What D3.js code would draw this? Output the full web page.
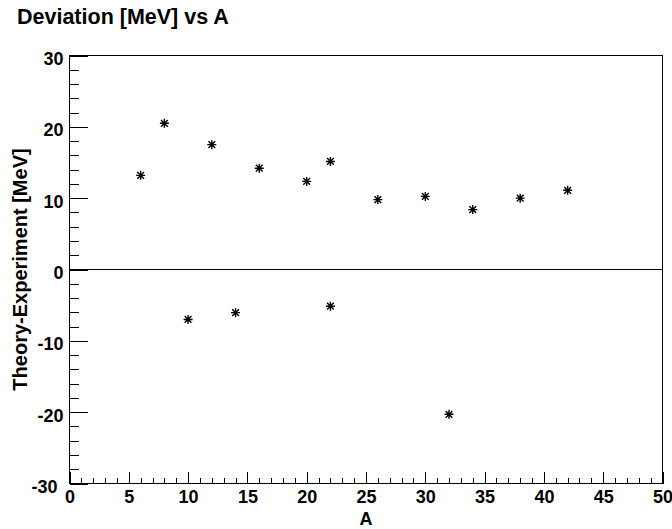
<!DOCTYPE html>
<html>
<head>
<meta charset="utf-8">
<script src="https://cdn.jsdelivr.net/npm/d3@7"></script>
<style>
  body { margin: 0; background: #fff; }
  svg { display: block; font-family: "Liberation Sans", Arial, sans-serif; font-weight: bold; }
</style>
</head>
<body>
<svg id="chart" width="672" height="529"></svg>
<script>
// mass number A and deviation theory - experiment [MeV]
const massNumbers = [6, 8, 10, 12, 14, 16, 20, 22, 22, 26, 30, 32, 34, 38, 42];
const deviations = [13.2, 20.5, -7.0, 17.5, -6.05, 14.2, 12.35, 15.15, -5.15, 9.8, 10.25, -20.3, 8.4, 10.0, 11.1];
const xTicks = [0, 5, 10, 15, 20, 25, 30, 35, 40, 45, 50];
const yTicks = [-30, -20, -10, 0, 10, 20, 30];

const width = 672, height = 529;
const margin = { left: 69.5, right: 9.5, top: 55.5, bottom: 45.5 };
const svg = d3.select('#chart');

const x = d3.scaleLinear().domain([0, 50]).range([margin.left, width - margin.right]);
const y = d3.scaleLinear().domain([-30, 30]).range([height - margin.bottom, margin.top]);

// minor ticks
const xMinor = d3.range(0, 51, 1).filter(v => v % 5 !== 0);
const yMinor = d3.range(-30, 31, 2).filter(v => v % 10 !== 0);

const fmt = d => String(d);

const xAxis = svg.append('g')
    .attr('transform', 'translate(0,' + y(-30) + ')')
    .call(d3.axisBottom(x).tickValues(xTicks).tickSize(-12).tickPadding(7).tickFormat(fmt));
svg.append('g')
    .attr('transform', 'translate(0,' + y(-30) + ')')
    .call(d3.axisBottom(x).tickValues(xMinor).tickSize(-6).tickFormat(''));

const yAxis = svg.append('g')
    .attr('transform', 'translate(' + x(0) + ',0)')
    .call(d3.axisLeft(y).tickValues(yTicks).tickSize(-18).tickPadding(6).tickFormat(fmt));
svg.append('g')
    .attr('transform', 'translate(' + x(0) + ',0)')
    .call(d3.axisLeft(y).tickValues(yMinor).tickSize(-9).tickFormat(''));

svg.selectAll('.domain').remove();
svg.selectAll('.tick line').attr('stroke', '#000').attr('shape-rendering', 'crispEdges');
svg.selectAll('.tick text')
    .attr('fill', '#000')
    .style('font-size', '18px')
    .style('font-family', '"Liberation Sans", Arial, sans-serif')
    .style('font-weight', 'bold');
yAxis.selectAll('.tick text').attr('dy', '0.5em');
// lowest y label sits left of the x-axis "0"
yAxis.selectAll('.tick text').filter(d => d === -30).attr('x', -12);

// frame
svg.append('rect')
    .attr('x', x(0)).attr('y', y(30))
    .attr('width', x(50) - x(0)).attr('height', y(-30) - y(30))
    .attr('fill', 'none').attr('stroke', '#000').attr('stroke-width', 1)
    .attr('shape-rendering', 'crispEdges');

// zero line
svg.append('line')
    .attr('x1', x(0)).attr('x2', x(50))
    .attr('y1', y(0)).attr('y2', y(0))
    .attr('stroke', '#000').attr('shape-rendering', 'crispEdges');

// star markers
const r = 4.5;
const star = 'M' + -r + ',0H' + r + 'M0,' + -r + 'V' + r +
    'M' + -r * 0.75 + ',' + -r * 0.75 + 'L' + r * 0.75 + ',' + r * 0.75 +
    'M' + -r * 0.75 + ',' + r * 0.75 + 'L' + r * 0.75 + ',' + -r * 0.75;
svg.append('g').selectAll('path')
    .data(massNumbers.map((a, i) => ({ a: a, d: deviations[i] })))
    .enter()
    .append('path')
    .attr('transform', d => 'translate(' + x(d.a) + ',' + y(d.d) + ')')
    .attr('d', star)
    .attr('stroke', '#000')
    .attr('stroke-width', 1.4)
    .attr('fill', 'none');

// titles
svg.append('text')
    .attr('x', 17).attr('y', 24)
    .style('font-size', '21.5px')
    .text('Deviation [MeV] vs A');

svg.append('text')
    .attr('x', x(25)).attr('y', 525)
    .attr('text-anchor', 'middle')
    .style('font-size', '18px')
    .text('A');

svg.append('text')
    .attr('transform', 'translate(27,' + y(0) + ') rotate(-90)')
    .attr('text-anchor', 'middle')
    .style('font-size', '20px')
    .text('Theory-Experiment [MeV]');
</script>
</body>
</html>
